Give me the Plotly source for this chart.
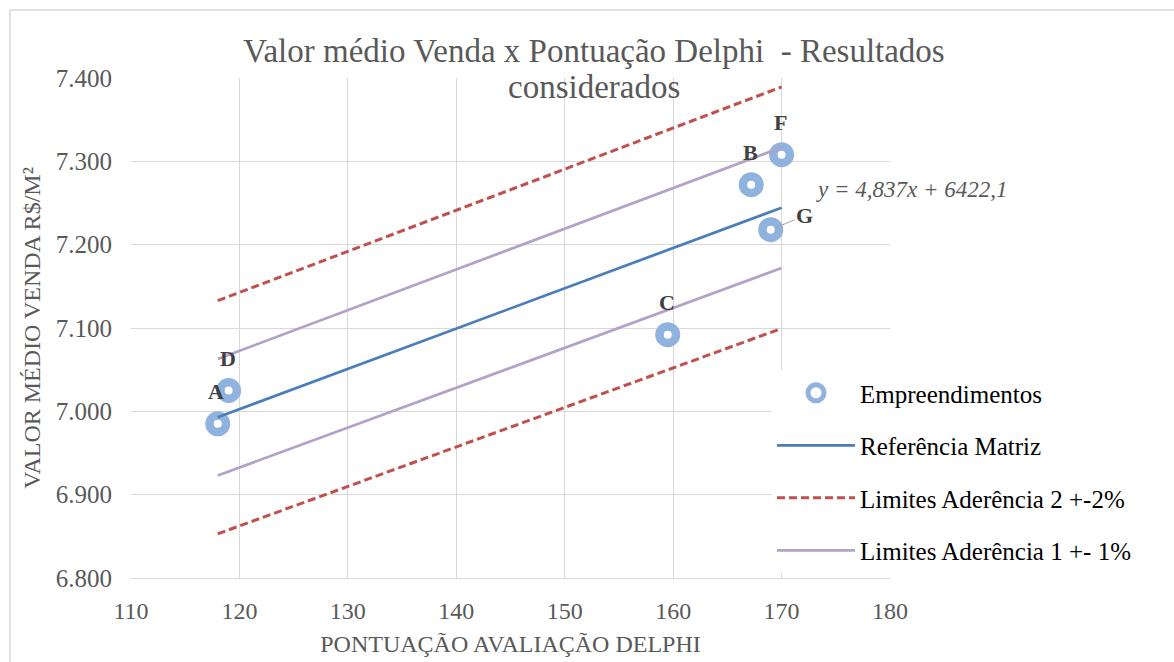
import plotly.graph_objects as go

# ---- data ----
labels = ["A", "D", "C", "B", "G", "F"]
pontuacao = [118, 119, 159.5, 167.2, 169, 170]
valor_medio = [6985, 7025, 7092, 7272, 7218, 7308]

line_x = [118, 170]
ref_matriz = [6992.9, 7244.4]          # y = 4,837x + 6422,1
lim2_sup = [7132.8, 7389.3]            # +2%
lim2_inf = [6853.0, 7099.5]            # -2%
lim1_sup = [7062.8, 7316.8]            # +1%
lim1_inf = [6923.0, 7172.0]            # -1%

x_ticks = [110, 120, 130, 140, 150, 160, 170, 180]
y_ticks = [6800, 6900, 7000, 7100, 7200, 7300, 7400]

equation_text = "y = 4,837x + 6422,1"
title_line1 = "Valor médio Venda x Pontuação Delphi  - Resultados"
title_line2 = "considerados"

FONT = "Liberation Serif, Times New Roman, serif"
GREY = "#595959"

L, T, W, H = 131, 78, 759, 500   # plot area in pixels


def px(xp, yp):
    return (xp - L) / W, (T + H - yp) / H


fig = go.Figure()

fig.add_trace(go.Scatter(
    x=pontuacao, y=valor_medio, mode="markers", name="Empreendimentos",
    marker=dict(symbol="circle", size=16.5, color="white",
                line=dict(color="#8fb3de", width=8.5)),
    legendgroup="a", cliponaxis=False))

fig.add_trace(go.Scatter(
    x=line_x, y=ref_matriz, mode="lines", name="Referência Matriz",
    line=dict(color="#4a7ebb", width=2.75), legendgroup="b"))

fig.add_trace(go.Scatter(
    x=line_x, y=lim2_sup, mode="lines", name="Limites Aderência 2 +-2%",
    line=dict(color="#c0504d", width=3, dash="8px,4px"), legendgroup="c"))
fig.add_trace(go.Scatter(
    x=line_x, y=lim2_inf, mode="lines", showlegend=False,
    line=dict(color="#c0504d", width=3, dash="8px,4px"), legendgroup="c"))

fig.add_trace(go.Scatter(
    x=line_x, y=lim1_inf, mode="lines", name="Limites Aderência 1 +- 1%",
    line=dict(color="#b3a2c7", width=2.75), legendgroup="d"))
fig.add_trace(go.Scatter(
    x=line_x, y=lim1_sup, mode="lines", showlegend=False,
    line=dict(color="#b3a2c7", width=2.75), legendgroup="d"))

annotations = []
for lab, xv, yv in zip(labels, pontuacao, valor_medio):
    if lab == "G":
        annotations.append(dict(
            x=xv, y=yv, text="<b>G</b>", showarrow=True, arrowhead=0,
            arrowwidth=1, arrowcolor="#a6a6a6", ax=34, ay=-14, standoff=5,
            font=dict(family=FONT, size=22, color="#404040")))
    else:
        annotations.append(dict(
            x=xv, y=yv, text="<b>%s</b>" % lab, showarrow=False,
            yshift=32, xshift=-1 if lab != "A" else -2,
            font=dict(family=FONT, size=22, color="#404040")))

ex, ey = px(912, 189)
annotations.append(dict(
    x=ex, y=ey, xref="paper", yref="paper", xanchor="center", yanchor="middle",
    text="<i>%s</i>" % equation_text, showarrow=False,
    font=dict(family=FONT, size=23, color=GREY)))

t2x, t2y = px(594, 87)
annotations.append(dict(
    x=t2x, y=t2y, xref="paper", yref="paper",
    text=title_line2, showarrow=False, xanchor="center", yanchor="middle",
    font=dict(family=FONT, size=33, color=GREY)))

lx, ly = px(772, 370)

fig.update_layout(
    width=1174, height=662,
    margin=dict(l=L, r=1174 - L - W, t=T, b=662 - T - H, autoexpand=False),
    paper_bgcolor="white", plot_bgcolor="white",
    separators=",.",
    font=dict(family=FONT, color=GREY),
    title=dict(text=title_line1, x=594 / 1174, xref="container", xanchor="center",
               y=1 - 50 / 662, yref="container", yanchor="middle",
               font=dict(family=FONT, size=33, color=GREY)),
    xaxis=dict(range=[110, 180], tickvals=x_ticks, showgrid=True,
               gridcolor="#d9d9d9", gridwidth=1, zeroline=False,
               showline=True, linecolor="#d9d9d9", linewidth=1,
               automargin=False,
               tickfont=dict(family=FONT, size=24, color=GREY),
               ticklabelstandoff=11,
               title=dict(text="PONTUAÇÃO AVALIAÇÃO DELPHI", standoff=12,
                          font=dict(family=FONT, size=24, color=GREY))),
    yaxis=dict(range=[6800, 7400], tickvals=y_ticks, tickformat=",.0f",
               showgrid=True, gridcolor="#d9d9d9", gridwidth=1, zeroline=False,
               showline=False, automargin=False,
               tickfont=dict(family=FONT, size=25, color=GREY),
               ticklabelstandoff=18,
               title=dict(text="VALOR MÉDIO VENDA R$/M²", standoff=8,
                          font=dict(family=FONT, size=24, color=GREY))),
    legend=dict(x=lx, xanchor="left", y=ly, yanchor="top",
                bgcolor="white", borderwidth=0, tracegroupgap=17,
                itemwidth=78,
                font=dict(family=FONT, size=25, color="black")),
    annotations=annotations,
    shapes=[dict(type="rect", xref="paper", yref="paper",
                 x0=(10 - L) / W, x1=(1190 - L) / W,
                 y0=(T + H - 680) / H, y1=(T + H - 10) / H,
                 line=dict(color="#d9d9d9", width=1.5), layer="below")],
)

fig.write_html("out.html")
